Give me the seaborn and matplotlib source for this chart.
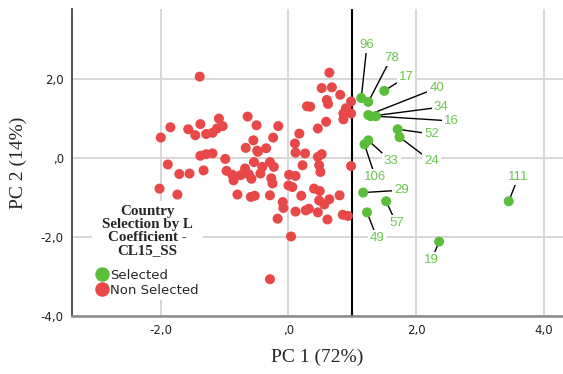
import pandas as pd
import seaborn as sns
import numpy as np
import matplotlib.pyplot as plt

# selected countries (green, labelled)
sel_ids = ['96', '78', '17', '40', '34', '16', '52', '24', '33', '106', '29', '57', '49', '111', '19']
sel_pc1 = [1.14, 1.25, 1.50, 1.25, 1.29, 1.37, 1.71, 1.74, 1.25, 1.19, 1.17, 1.53, 1.23, 3.45, 2.36]
sel_pc2 = [1.51, 1.41, 1.69, 1.08, 1.05, 1.05, 0.72, 0.52, 0.44, 0.34, -0.88, -1.10, -1.38, -1.10, -2.12]

# non selected countries (red)
non_pc1 = [-1.39, -2.00, -1.85, -1.57, -1.46, -1.38, -1.29, -1.19, -1.09, -1.12,
           -1.03, -0.64, -0.50, -0.16, -0.24, -0.55, -0.67, -0.49, -0.35, -1.38,
           -1.29, -1.19, -0.99, 0.17, 0.10, 0.11, 0.26, 0.46, 0.52, 0.46,
           0.59, 0.29, 0.34, 0.60, 0.62, 0.52, 0.68, 0.64, 0.81, 0.98,
           0.90, 0.86, 0.98, 0.86, -1.89, -1.71, -1.55, -1.33, -0.97, -0.88,
           -0.86, -0.75, -0.68, -0.62, -0.58, -0.54, -0.41, -0.44, -0.29, -0.23,
           -0.27, -0.25, -2.02, -1.74, -0.80, -0.59, -0.53, -0.29, -0.09, -0.08,
           -0.17, 0.01, 0.11, 0.00, 0.06, 0.22, 0.20, 0.11, 0.27, 0.32,
           0.46, 0.61, 0.40, 0.49, 0.48, 0.56, 0.64, 0.80, 0.85, 0.93,
           0.98, 0.48, 0.50, 0.04, -0.29, -0.48]
non_pc2 = [2.05, 0.51, 0.77, 0.72, 0.57, 0.85, 0.60, 0.63, 0.99, 0.74,
           0.80, 1.04, 0.82, 0.80, 0.51, 0.44, 0.25, 0.18, 0.24, 0.05,
           0.09, 0.11, -0.03, 0.61, 0.36, 0.13, 0.11, 0.02, 0.09, 0.74,
           0.91, 1.30, 1.29, 1.46, 1.36, 1.76, 1.78, 2.15, 1.59, 1.42,
           1.25, 1.12, 1.12, 0.97, -0.17, -0.41, -0.40, -0.32, -0.33, -0.43,
           -0.57, -0.44, -0.27, -0.42, -0.53, -0.11, -0.23, -0.40, -0.11, -0.23,
           -0.52, -0.65, -0.78, -0.93, -0.93, -0.99, -0.96, -0.95, -1.12, -1.27,
           -1.54, -0.43, -0.46, -0.70, -0.74, -0.19, -0.96, -1.36, -1.33, -1.29,
           -1.38, -1.56, -0.78, -0.84, -1.08, -1.18, -1.05, -0.95, -1.44, -1.47,
           -0.21, -0.19, -0.36, -1.99, -3.07, 0.15]

groups = ['Selected', 'Non Selected']
x_ticks = [-2.0, 0.0, 2.0, 4.0]
x_tick_labels = ['-2,0', ',0', '2,0', '4,0']
y_ticks = [-4.0, -2.0, 0.0, 2.0]
y_tick_labels = ['-4,0', '-2,0', ',0', '2,0']

# where the id labels sit
lab_x = [1.23, 1.61, 1.84, 2.32, 2.39, 2.55, 2.24, 2.24, 1.61, 1.36, 1.77, 1.69, 1.39, 3.60, 2.24]
lab_y = [2.86, 2.53, 2.04, 1.76, 1.28, 0.93, 0.60, -0.09, -0.09, -0.49, -0.82, -1.66, -2.04, -0.49, -2.58]

df = pd.DataFrame({
    'PC1': sel_pc1 + non_pc1,
    'PC2': sel_pc2 + non_pc2,
    'group': [groups[0]] * len(sel_pc1) + [groups[1]] * len(non_pc1),
})

green = '#5BBE3A'
red = '#E84848'
label_green = '#6CC64C'

sns.set_style('white')
fig = plt.figure(figsize=(5.63, 3.74), dpi=100)
ax = fig.add_axes([0.128, 0.155, 0.872, 0.82])

ax.axvline(1.0, color='black', lw=1.5, zorder=2)

for i, lab in enumerate(sel_ids):
    ax.annotate(lab, xy=(sel_pc1[i], sel_pc2[i]), xytext=(lab_x[i], lab_y[i]),
                ha='center', va='center', color=label_green, fontsize=9.5,
                family='Liberation Sans',
                bbox=dict(boxstyle='square,pad=0.15', fc='white', ec='none'),
                arrowprops=dict(arrowstyle='-', color='black', lw=1,
                                shrinkA=0, shrinkB=0),
                zorder=3)

sns.scatterplot(data=df, x='PC1', y='PC2', hue='group', hue_order=groups,
                palette=[green, red], s=52, linewidth=0, alpha=1,
                ax=ax, zorder=4)

ax.set_xlim(-3.39, 4.3)
ax.set_ylim(-4.0, 3.75)
ax.set_xticks(x_ticks)
ax.set_xticklabels(x_tick_labels)
ax.set_yticks(y_ticks)
ax.set_yticklabels(y_tick_labels)
ax.tick_params(length=0, labelsize=8.5, colors='#222222', pad=6)
ax.grid(True, color='#D4D4D4', lw=1.3)
ax.set_axisbelow(True)

for s in ['top', 'right']:
    ax.spines[s].set_visible(False)
ax.spines['left'].set_color('#444444')
ax.spines['bottom'].set_color('#8A8A8A')
ax.spines['left'].set_linewidth(1.3)
ax.spines['bottom'].set_linewidth(1.8)

ax.set_xlabel('PC 1 (72%)', family='Liberation Serif', fontsize=14, labelpad=8)
ax.set_ylabel('PC 2 (14%)', family='Liberation Serif', fontsize=14, labelpad=10)

sns.move_legend(ax, 'upper left', bbox_to_anchor=(0.028, 0.395),
                title='Country\nSelection by L\nCoefficient -\nCL15_SS',
                frameon=True, framealpha=1, facecolor='white', edgecolor='none',
                fontsize=9.5, markerscale=1.45, handletextpad=0.15, handlelength=0.9,
                labelspacing=0.15, borderpad=0.3, fancybox=False)
leg = ax.get_legend()
t = leg.get_title()
t.set_family('Liberation Serif')
t.set_fontweight('bold')
t.set_fontsize(10.8)
t.set_multialignment('center')
t.set_linespacing(1.0)
leg._legend_box.align = 'center'
leg._legend_box.sep = 8
leg.set_zorder(5)

fig.savefig('out.png', dpi=100)
